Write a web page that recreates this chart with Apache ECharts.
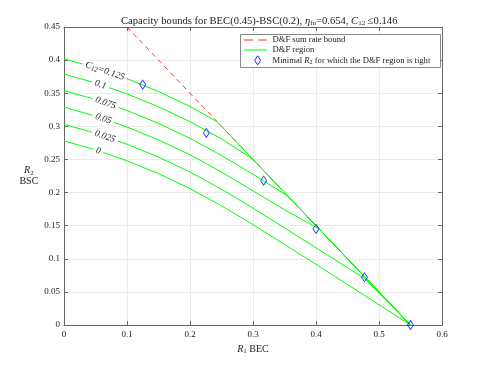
<!DOCTYPE html>
<html>
<head>
<meta charset="utf-8">
<script src="https://cdn.jsdelivr.net/npm/echarts@6/dist/echarts.min.js"></script>
<style>
html, body { margin: 0; background: #fff; }
#main { width: 488px; height: 366px; }
</style>
</head>
<body>
<div id="main"></div>
<script>
// D&F region curves, one per C12 value ([R1, R2])
var c125 = [[0, 0.402], [0.05, 0.3885], [0.1, 0.372], [0.15, 0.3525], [0.2, 0.330], [0.243, 0.307], [0.55, 0]];
var c100 = [[0, 0.379], [0.05, 0.3655], [0.1, 0.349], [0.15, 0.3295], [0.2, 0.307], [0.25, 0.281], [0.299, 0.251], [0.55, 0]];
var c075 = [[0, 0.354], [0.05, 0.3405], [0.1, 0.324], [0.15, 0.3045], [0.2, 0.282], [0.25, 0.256], [0.3, 0.2276], [0.355, 0.195], [0.55, 0]];
var c050 = [[0, 0.329], [0.05, 0.3155], [0.1, 0.299], [0.15, 0.2795], [0.2, 0.257], [0.25, 0.231], [0.3, 0.2026], [0.35, 0.174], [0.405, 0.145], [0.55, 0]];
var c025 = [[0, 0.303], [0.05, 0.2895], [0.1, 0.273], [0.15, 0.2535], [0.2, 0.231], [0.25, 0.205], [0.3, 0.1766], [0.35, 0.1466], [0.4, 0.1166], [0.45, 0.0866], [0.477, 0.0705], [0.55, 0]];
var c000 = [[0, 0.278], [0.05, 0.2645], [0.1, 0.248], [0.15, 0.2285], [0.2, 0.206], [0.25, 0.18], [0.3, 0.1516], [0.35, 0.1216], [0.4, 0.0916], [0.45, 0.0612], [0.5, 0.0306], [0.55, 0]];
var curves = [c125, c100, c075, c050, c025, c000];
var curveLabels = ['{i|C}{s|12}{n|=0.125}', '0.1', '0.075', '0.05', '0.025', '0'];
var labelAt = [0.065, 0.058, 0.066, 0.0625, 0.065, 0.0545];

// sum rate bound (dashed)
var sumRate = [[0.1, 0.45], [0.55, 0]];

// minimal R2 markers
var minR1 = [0.125, 0.226, 0.317, 0.4, 0.477, 0.55];
var minR2 = [0.363, 0.29, 0.218, 0.145, 0.072, 0];

var legendNames = ['D&F sum rate bound', 'D&F region', '{n|Minimal }{i|R}{s|2}{n| for which the D&F region is tight}'];

var FONT = 'Liberation Serif';
var GREEN = '#00ff00';
var RED = '#ff1a1a';
var BLUE = '#0000ff';
var TXT = '#222';

var chart = echarts.init(document.getElementById('main'));

function rich(size, sub, drop) {
    return {
        i: { fontStyle: 'italic', fontFamily: FONT, fontSize: size, color: TXT },
        s: { fontFamily: FONT, fontSize: sub, color: TXT, padding: [drop, 0, 0, 0] },
        n: { fontFamily: FONT, fontSize: size, color: TXT }
    };
}

var series = [{
    name: 'D&F sum rate bound',
    type: 'line',
    symbol: 'none',
    z: 1,
    data: sumRate,
    lineStyle: { color: RED, width: 0.9, type: [5, 4] }
}];
curves.forEach(function(c) {
    series.push({
        name: 'D&F region',
        type: 'line',
        symbol: 'none',
        z: 2,
        data: c,
        lineStyle: { color: GREEN, width: 1 }
    });
});
series.push({
    name: 'Minimal R2',
    type: 'scatter',
    symbol: 'diamond',
    symbolSize: [6, 9],
    clip: false,
    z: 3,
    data: minR1.map(function(x, i) { return [x, minR2[i]]; }),
    itemStyle: { color: 'rgba(255,255,255,0)', borderColor: BLUE, borderWidth: 0.9 }
});

var axisCommon = {
    axisLine: { show: true, onZero: false, lineStyle: { color: '#666', width: 1 } },
    axisTick: { show: true, inside: true, length: 4, lineStyle: { color: '#666' } }
};

var option = {
    animation: false,
    backgroundColor: '#fff',
    title: {
        text: 'Capacity bounds for BEC(0.45)-BSC(0.2), {i|\u03b7}{s|fn}{n|=0.654, }{i|C}{s|12}{n| \u22640.146}',
        left: 116,
        top: 10,
        textStyle: {
            fontFamily: FONT, fontSize: 10.6, fontWeight: 'normal', color: TXT,
            rich: rich(10.6, 7, 5)
        }
    },
    grid: { left: 64, right: 46, top: 27, bottom: 41 },
    xAxis: [
        Object.assign({
            type: 'value', min: 0, max: 0.6, interval: 0.1, position: 'bottom',
            name: '{i|R}{s|1}{n| BEC}',
            nameLocation: 'middle',
            nameGap: 15,
            nameTextStyle: { rich: rich(10, 7, 5) },
            axisLabel: { fontFamily: FONT, fontSize: 9, color: TXT, margin: 5 },
            splitLine: { show: true, lineStyle: { color: '#ebebeb', width: 1 } }
        }, axisCommon),
        Object.assign({
            type: 'value', min: 0, max: 0.6, interval: 0.1, position: 'top',
            axisLabel: { show: false }, splitLine: { show: false }
        }, axisCommon)
    ],
    yAxis: [
        Object.assign({
            type: 'value', min: 0, max: 0.45, interval: 0.05, position: 'left',
            name: '{i|R}{s|2}\n{n|BSC}',
            nameLocation: 'middle',
            nameRotate: 0,
            nameGap: 20,
            nameTextStyle: { rich: rich(10, 7, 5), align: 'center', lineHeight: 11 },
            axisLabel: { fontFamily: FONT, fontSize: 9, color: TXT, margin: 4 },
            splitLine: { show: true, lineStyle: { color: '#ebebeb', width: 1 } }
        }, axisCommon),
        Object.assign({
            type: 'value', min: 0, max: 0.45, interval: 0.05, position: 'right',
            axisLabel: { show: false }, splitLine: { show: false }
        }, axisCommon)
    ],
    series: series
};
chart.setOption(option);

// contour labels placed on each curve, with a white box that breaks the line
var graphics = curves.map(function(c, k) {
    var p1 = chart.convertToPixel({ xAxisIndex: 0, yAxisIndex: 0 }, c[1]);
    var p2 = chart.convertToPixel({ xAxisIndex: 0, yAxisIndex: 0 }, c[2]);
    var t = (labelAt[k] - c[1][0]) / (c[2][0] - c[1][0]);
    var ang = Math.atan2(p2[1] - p1[1], p2[0] - p1[0]);
    return {
        type: 'text',
        x: p1[0] + (p2[0] - p1[0]) * t,
        y: p1[1] + (p2[1] - p1[1]) * t,
        rotation: -ang,
        z: 10,
        style: {
            text: k === 0 ? curveLabels[k] : '{n|' + curveLabels[k] + '}',
            align: 'center',
            verticalAlign: 'middle',
            backgroundColor: '#fff',
            padding: [0, 3],
            rich: {
                i: { fontStyle: 'italic', fontFamily: FONT, fontSize: 9.5, fill: TXT },
                s: { fontStyle: 'italic', fontFamily: FONT, fontSize: 7, fill: TXT, padding: [4, 0, 0, 0] },
                n: { fontStyle: 'italic', fontFamily: FONT, fontSize: 9.5, fill: TXT }
            }
        }
    };
});

// legend box, drawn like the MATLAB one
var lx = 240, ly = 34, rowY = [40, 50, 60.3];
var legendItems = [
    { type: 'rect', shape: { x: lx + 0.5, y: ly + 0.5, width: 200, height: 33 }, style: { fill: '#fff', stroke: '#888', lineWidth: 1 }, z: 20 },
    { type: 'line', shape: { x1: 244, y1: rowY[0], x2: 253, y2: rowY[0] }, style: { stroke: RED, lineWidth: 0.9 }, z: 21 },
    { type: 'line', shape: { x1: 258, y1: rowY[0], x2: 267, y2: rowY[0] }, style: { stroke: RED, lineWidth: 0.9 }, z: 21 },
    { type: 'line', shape: { x1: 244, y1: rowY[1], x2: 267, y2: rowY[1] }, style: { stroke: GREEN, lineWidth: 1 }, z: 21 },
    { type: 'polygon', shape: { points: [[257.7, rowY[2] - 4.5], [260.7, rowY[2]], [257.7, rowY[2] + 4.5], [254.7, rowY[2]]] }, style: { fill: 'none', stroke: BLUE, lineWidth: 0.9 }, z: 21 }
];
legendNames.forEach(function(name, k) {
    legendItems.push({
        type: 'text',
        x: 272.5,
        y: rowY[k],
        z: 21,
        style: {
            text: k === 2 ? name : '{n|' + name + '}',
            verticalAlign: 'middle',
            rich: {
                i: { fontStyle: 'italic', fontFamily: FONT, fontSize: 8.6, fill: TXT },
                s: { fontFamily: FONT, fontSize: 6.2, fill: TXT, padding: [4, 0, 0, 0] },
                n: { fontFamily: FONT, fontSize: 8.6, fill: TXT }
            }
        }
    });
});

chart.setOption({ graphic: graphics.concat(legendItems) });
</script>
</body>
</html>
